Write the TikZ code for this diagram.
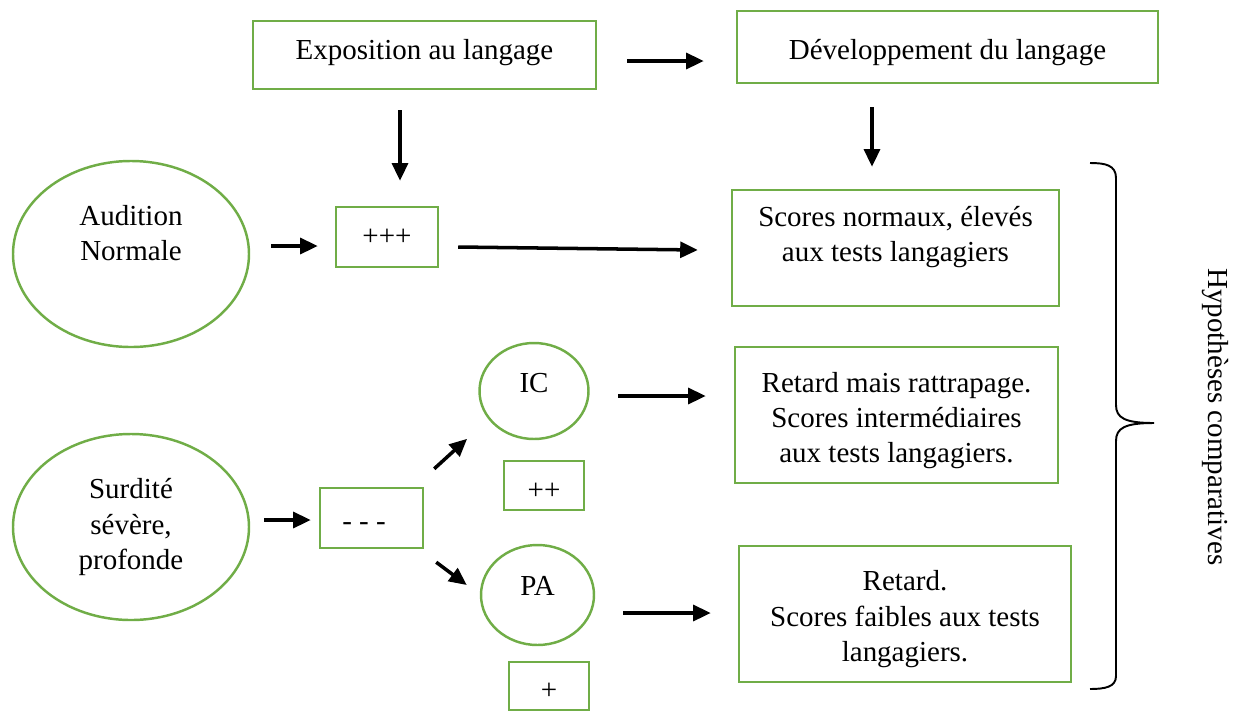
\documentclass[tikz,border=0pt]{standalone}
\usepackage{fontspec}
\setmainfont{Liberation Serif}
\usetikzlibrary{calc, positioning}
\usetikzlibrary{arrows.meta}
\usetikzlibrary{shapes.geometric}
\definecolor{boxgreen}{HTML}{70AD47}
% move a text up or down inside its shape
\newcommand{\nudge}[2]{\raisebox{#1}[\height][\depth]{\begin{tabular}{@{}c@{}}#2\end{tabular}}}

\begin{document}
\begin{tikzpicture}[x=0.02cm, y=-0.02cm,
  every node/.style={font=\fontsize{16.5}{20}\selectfont, align=center, inner sep=0pt},
  box/.style={draw=boxgreen, line width=1.4pt, rectangle},
  oval/.style={draw=boxgreen, line width=1.4pt, ellipse},
  arr/.style={-{Triangle[length=10pt,width=9pt]}, line width=2pt, black}]
\def\px{0.02cm}
\useasboundingbox (0,0) rectangle (1241,711);

% top row
\node[box, minimum width=343*\px, minimum height=68*\px] (expo) at (424.5,55) {\nudge{0.06cm}{Exposition au langage}};
\node[box, minimum width=421*\px, minimum height=72*\px] (dev) at (947.5,47) {\nudge{-0.1cm}{Développement du langage}};

% left column
\node[oval, minimum width=236*\px, minimum height=186*\px] (aud) at (131,254) {\nudge{0.36cm}{Audition\\Normale}};
\node[oval, minimum width=236*\px, minimum height=186*\px] (surd) at (131,527) {\nudge{0cm}{Surdité\\sévère,\\profonde}};

% middle
\node[box, minimum width=102*\px, minimum height=60*\px] (plus3) at (387,237) {+++};
\node[box, minimum width=103*\px, minimum height=60*\px] (minus3) at (371.5,518) {\nudge{-0.1cm}{- - -\hspace*{0.3cm}}};
\node[oval, minimum width=109*\px, minimum height=96*\px] (ic) at (534,391) {\nudge{0.12cm}{IC}};
\node[box, minimum width=80*\px, minimum height=49*\px] (plus2) at (544,485.5) {\nudge{-0.14cm}{++}};
\node[oval, minimum width=113*\px, minimum height=100*\px] (pa) at (537.5,595) {\nudge{0.14cm}{PA}};
\node[box, minimum width=80*\px, minimum height=48*\px] (plus1) at (549,686) {\nudge{-0.12cm}{+}};

% results
\node[box, minimum width=327*\px, minimum height=116*\px] (scn) at (895.5,248) {\nudge{0.22cm}{Scores normaux, élevés\\aux tests langagiers}};
\node[box, minimum width=323*\px, minimum height=136*\px] (inter) at (896.5,415) {\nudge{-0.11cm}{Retard mais rattrapage.\\Scores intermédiaires\\aux tests langagiers.}};
\node[box, minimum width=332*\px, minimum height=136*\px] (faible) at (905,614) {\nudge{-0.1cm}{Retard.\\Scores faibles aux tests\\langagiers.}};

\node[rotate=-90] (hyp) at (1215,417) {Hypothèses comparatives};

% arrows
\draw[arr] ($(expo.east)+(30,6)$) -- ($(dev.west)+(-32,14)$);
\draw[arr] ($(expo.south)+(-24.5,20)$) -- ($(plus3.north)+(13,-25)$);
\draw[arr] ($(dev.south)+(-75.5,23)$) -- ($(scn.north)+(-23.5,-22)$);
\draw[arr] ($(aud.east)+(21,-8)$) -- ($(plus3.west)+(-17,9)$);
\draw[arr] ($(plus3.east)+(19,10)$) -- ($(scn.west)+(-33,2)$);
\draw[arr] ($(surd.east)+(14,-7)$) -- ($(minus3.west)+(-8,2)$);
\draw[arr] ($(minus3.north east)+(10,-18)$) -- ($(ic.south west)+(-27.5,13)$);
\draw[arr] ($(minus3.south east)+(12,13)$) -- ($(pa.west)+(-13,-10)$);
\draw[arr] ($(ic.east)+(28.5,5)$) -- ($(inter.west)+(-28,-19)$);
\draw[arr] ($(pa.east)+(28,18)$) -- ($(faible.west)+(-27,-1)$);

% brace
\draw[line width=1.1pt] (1090,163) .. controls (1105,163) and (1116,165) .. (1116,178) -- (1116,405)
  .. controls (1116,418) and (1125,423) .. (1154,423)
  .. controls (1125,423) and (1116,428) .. (1116,441) -- (1116,676)
  .. controls (1116,687) and (1105,689) .. (1090,689);
\end{tikzpicture}
\end{document}
